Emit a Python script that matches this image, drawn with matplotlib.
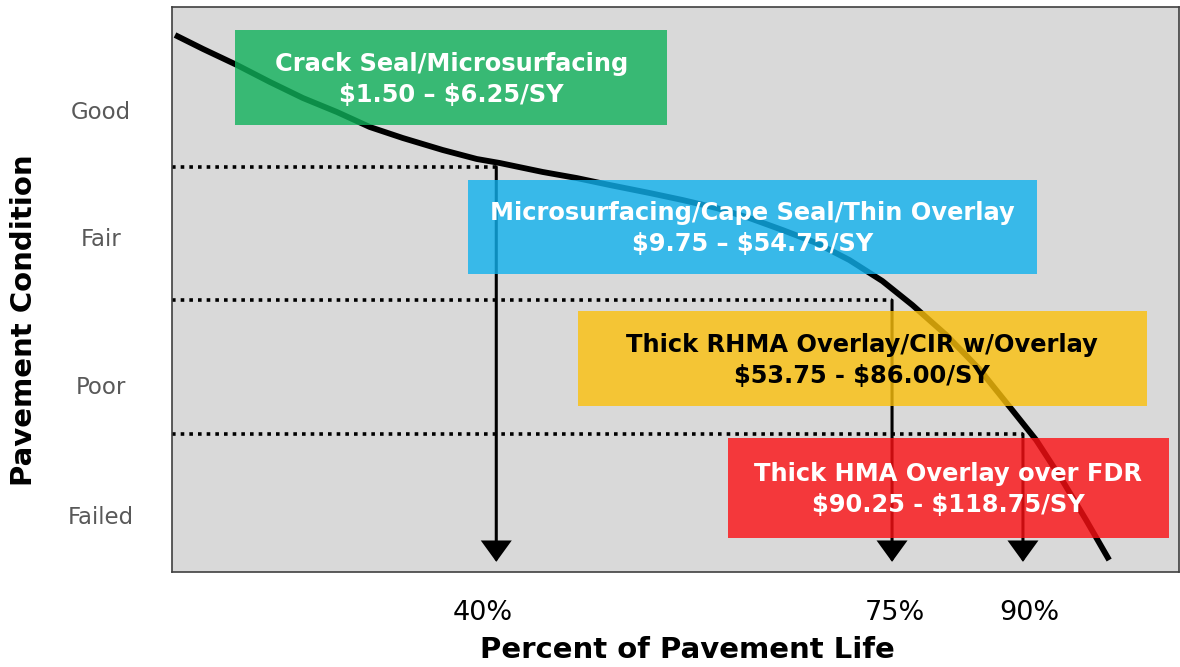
import matplotlib.pyplot as plt

# deterioration curve (x: position on the life axis, y: condition score)
life = [0.30, 3.08, 6.45, 9.72, 13.00, 16.37, 19.64, 22.92, 26.88, 30.26,
        32.54, 36.81, 40.18, 43.45, 47.42, 50.69, 54.07, 57.34, 60.62, 63.99,
        67.26, 70.54, 73.51, 76.88, 80.16, 83.43, 85.81, 88.39, 90.77, 93.06]
condition = [95.04, 92.57, 89.73, 86.73, 83.89, 81.42, 78.76, 76.81, 74.69, 73.10,
             72.39, 70.80, 69.73, 68.50, 67.08, 65.84, 64.42, 62.65, 60.53, 58.23,
             55.22, 51.50, 47.26, 41.95, 35.93, 28.67, 23.36, 16.28, 9.20, 2.12]

# condition thresholds and where the treatment triggers sit
thresholds = [71.7, 48.1, 24.4]
trigger_x = [32.2, 71.5, 84.5]
trigger_labels = ["40%", "75%", "90%"]
label_x = [30.9, 71.8, 85.1]

cond_labels = ["Good", "Fair", "Poor", "Failed"]
cond_pos = [81.8, 59.3, 33.1, 10.1]

# treatment boxes
box_text = ["Crack Seal/Microsurfacing\n\\$1.50 \u2013 \\$6.25/SY",
            "Microsurfacing/Cape Seal/Thin Overlay\n\\$9.75 \u2013 \\$54.75/SY",
            "Thick RHMA Overlay/CIR w/Overlay\n\\$53.75 - \\$86.00/SY",
            "Thick HMA Overlay over FDR\n\\$90.25 - \\$118.75/SY"]
box_x0 = [6.3, 29.4, 40.3, 55.2]
box_x1 = [49.2, 85.9, 96.8, 99.0]
box_y0 = [79.1, 52.7, 29.4, 6.0]
box_y1 = [95.9, 69.4, 46.2, 23.7]
box_colors = ["#10B25B", "#10B1EE", "#FBC00C", "#FB1014"]
text_colors = ["white", "white", "black", "white"]


def main():
    plt.rcParams['font.family'] = ['DejaVu Sans']
    fig = plt.figure(figsize=(11.8, 6.67), dpi=100)
    ax = fig.add_axes([172 / 1180, 95 / 667, 1 - 172 / 1180 - 0.0008, 565 / 667])
    ax.set_facecolor("#d9d9d9")
    ax.set_xlim(0, 100)
    ax.set_ylim(0, 100)

    ax.plot(life, condition, color="black", linewidth=4.2, zorder=2,
            solid_capstyle="butt", solid_joinstyle="round")

    for y, x in zip(thresholds, trigger_x):
        ax.plot([0, x], [y, y], color="black", linewidth=2.6,
                linestyle=(0, (1, 1.4)), zorder=2)
        ax.annotate("", xy=(x, 1.8), xytext=(x, y),
                    arrowprops=dict(arrowstyle="-|>,head_length=0.62,head_width=0.45",
                                    mutation_scale=20, joinstyle="miter",
                                    color="black", linewidth=2.2,
                                    shrinkA=0, shrinkB=0),
                    zorder=2)

    for i in range(len(box_text)):
        ax.bar(box_x0[i], box_y1[i] - box_y0[i], width=box_x1[i] - box_x0[i],
               bottom=box_y0[i], align="edge", color=box_colors[i],
               alpha=0.8, zorder=3)
        ax.text((box_x0[i] + box_x1[i]) / 2, (box_y0[i] + box_y1[i]) / 2 - 0.3,
                box_text[i], ha="center", va="center", fontsize=17.4,
                fontweight="bold", color=text_colors[i], zorder=4,
                linespacing=1.38)

    ax.set_xticks(label_x)
    ax.set_xticklabels(trigger_labels, fontsize=19.5, color="black")
    ax.set_yticks(cond_pos)
    ax.set_yticklabels(cond_labels, fontsize=16.5, color="#595959", ha="center")
    ax.tick_params(axis="x", length=0, pad=20)
    ax.tick_params(axis="y", length=0, pad=51)

    ax.set_xlabel("Percent of Pavement Life", fontsize=21, fontweight="bold",
                  va="center")
    ax.set_ylabel("Pavement Condition", fontsize=21, fontweight="bold",
                  va="center")
    ax.xaxis.set_label_coords(0.512, -0.138)
    ax.yaxis.set_label_coords(-0.1468, 0.446)
    for s in ax.spines.values():
        s.set_color("#404040")
        s.set_linewidth(1.2)

    plt.savefig("out.png")


if __name__ == "__main__":
    main()
